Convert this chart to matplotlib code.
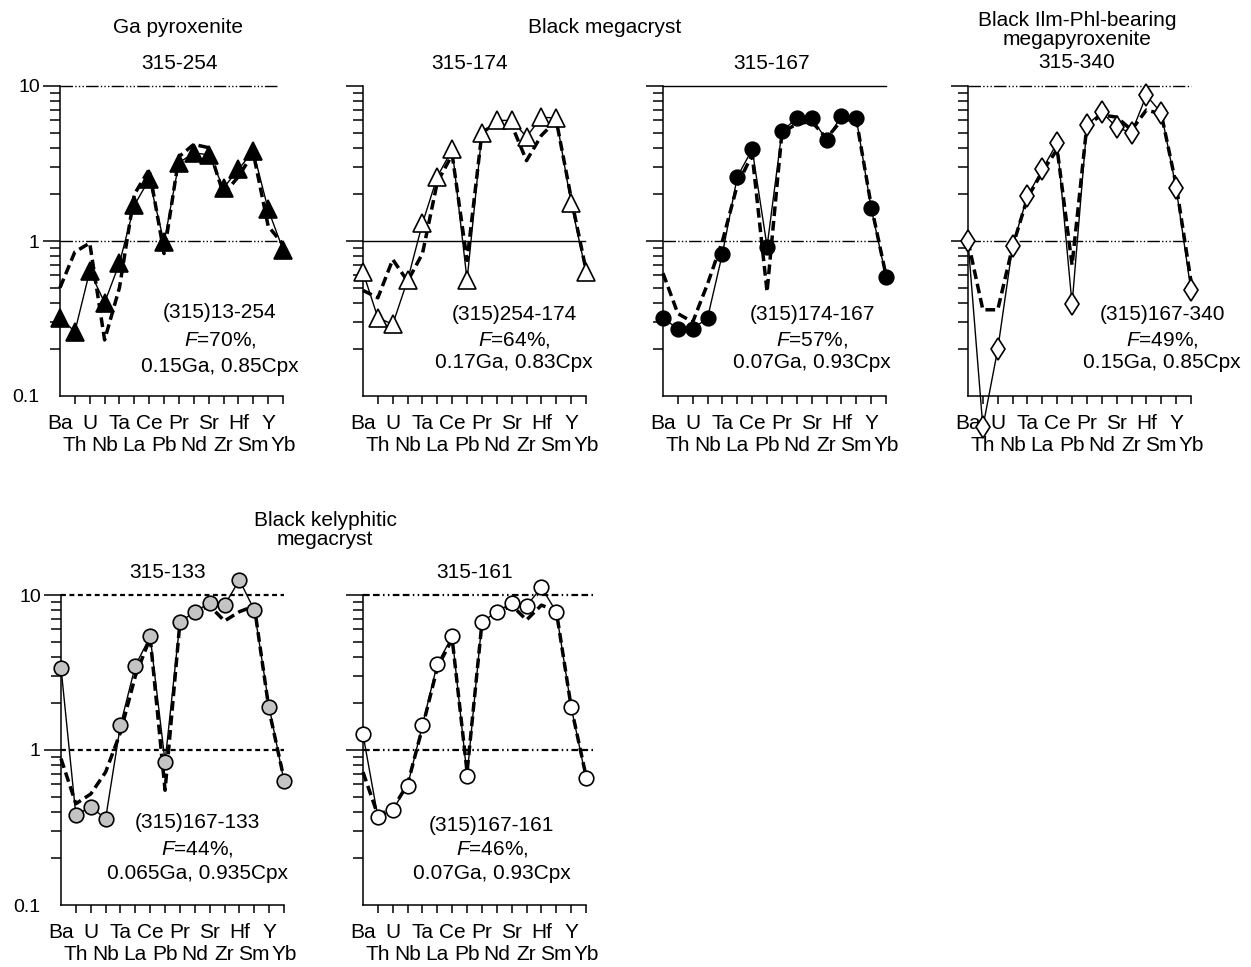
import numpy as np
import matplotlib
matplotlib.use('Agg')
import matplotlib.pyplot as plt

plt.rcParams['font.family'] = ['Liberation Sans', 'DejaVu Sans']
plt.rcParams['mathtext.fontset'] = 'custom'
plt.rcParams['mathtext.rm'] = 'Liberation Sans'
plt.rcParams['mathtext.it'] = 'Liberation Sans:italic'

# 元素 (規格化パターンの順番)
elements = ['Ba', 'Th', 'U', 'Nb', 'Ta', 'La', 'Ce', 'Pb',
            'Pr', 'Nd', 'Sr', 'Zr', 'Hf', 'Sm', 'Y', 'Yb']

# 観測値 (実線+マーカー) とモデル値 (太い破線)
obs_254 = [0.32, 0.26, 0.64, 0.40, 0.72, 1.7, 2.5, 0.98, 3.2, 3.7, 3.6, 2.2, 2.9, 3.8, 1.6, 0.88]
model_254 = [0.50, 0.85, 0.97, 0.23, 0.50, 2.0, 2.9, 0.83, 3.5, 4.2, 4.0, 2.0, 2.6, 3.7, 1.25, 0.95]

obs_174 = [0.63, 0.32, 0.29, 0.56, 1.3, 2.6, 3.9, 0.56, 5.0, 6.0, 6.0, 4.7, 6.3, 6.2, 1.75, 0.63]
model_174 = [0.48, 0.43, 0.76, 0.55, 0.83, 2.4, 3.6, 0.75, 5.0, 5.8, 5.6, 3.3, 4.8, 6.0, 1.9, 0.65]

obs_167 = [0.32, 0.27, 0.27, 0.32, 0.83, 2.6, 3.9, 0.92, 5.1, 6.2, 6.2, 4.5, 6.4, 6.2, 1.63, 0.59]
model_167 = [0.62, 0.34, 0.30, 0.53, 1.0, 2.3, 3.6, 0.47, 5.0, 5.7, 5.9, 4.6, 6.0, 6.1, 1.7, 0.60]

obs_340 = [1.0, 0.063, 0.20, 0.93, 1.95, 2.9, 4.3, 0.39, 5.6, 6.8, 5.4, 5.0, 8.7, 6.7, 2.2, 0.48]
model_340 = [1.0, 0.36, 0.36, 0.92, 1.9, 2.8, 3.9, 0.70, 5.6, 6.5, 6.3, 5.2, 7.0, 6.6, 2.3, 0.55]

obs_133 = [3.4, 0.38, 0.43, 0.36, 1.45, 3.5, 5.4, 0.84, 6.7, 7.8, 8.9, 8.6, 12.5, 8.0, 1.9, 0.63]
model_133 = [0.88, 0.45, 0.52, 0.72, 1.3, 3.0, 5.3, 0.55, 6.7, 7.8, 8.5, 6.8, 7.8, 8.5, 1.8, 0.65]

obs_161 = [1.26, 0.37, 0.41, 0.59, 1.45, 3.6, 5.4, 0.68, 6.7, 7.8, 8.9, 8.5, 11.2, 7.8, 1.9, 0.66]
model_161 = [0.72, 0.38, 0.42, 0.60, 1.4, 3.4, 5.2, 0.72, 6.6, 7.6, 8.6, 6.9, 8.6, 7.9, 1.9, 0.68]

samples = ['315-254', '315-174', '315-167', '315-340', '315-133', '315-161']
models = ['(315)13-254', '(315)254-174', '(315)174-167',
          '(315)167-340', '(315)167-133', '(315)167-161']
melt_F = ['70', '64', '57', '49', '44', '46']
modes = ['0.15Ga, 0.85Cpx', '0.17Ga, 0.83Cpx', '0.07Ga, 0.93Cpx',
         '0.15Ga, 0.85Cpx', '0.065Ga, 0.935Cpx', '0.07Ga, 0.93Cpx']

W, H = 1251, 967
fig = plt.figure(figsize=(W / 100, H / 100), dpi=100)


def fx(x):
    return x / W


def fy(y):
    return 1 - y / H


FS = 15

# 破線パターン
dash_dot3 = (0, (9, 1.6, 1, 1.6, 1, 1.6, 1, 1.6))
dash2_dot2 = (0, (3, 1.5, 3, 1.5, 0.7, 1.5, 0.7, 1.5))

panels = [
    # (left px, top px, obs, model, marker, face, ms, ref lines [(value, style, lw, xend)], text pos)
    (60, 86, obs_254, model_254, '^', 'black', 13,
     [(1, dash_dot3, 1.0, 14.7), (10, dash_dot3, 1.0, 14.7)],
     (0.717, [0.268, 0.181, 0.094])),
    (363, 86, obs_174, model_174, '^', 'white', 13,
     [(1, '-', 1.0, 14.9)],
     (0.677, [0.262, 0.181, 0.107])),
    (663, 86, obs_167, model_167, 'o', 'black', 10.5,
     [(1, dash_dot3, 1.0, 14.6), (10, '-', 1.0, 15.0)],
     (0.668, [0.262, 0.181, 0.107])),
    (968, 86, obs_340, model_340, 'd', 'white', 11.5,
     [(1, dash_dot3, 1.0, 15.0), (10, dash_dot3, 1.0, 15.0)],
     (0.87, [0.262, 0.181, 0.107])),
    (61, 595, obs_133, model_133, 'o', '#c4c4c4', 10.5,
     [(1, (0, (2.2, 1.6)), 1.6, 15.0), (10, (0, (2.2, 1.6)), 1.6, 15.0)],
     (0.61, [0.265, 0.180, 0.103])),
    (363, 595, obs_161, model_161, 'o', 'white', 10.5,
     [(1, dash2_dot2, 1.6, 15.6), (10, dash2_dot2, 1.6, 15.6)],
     (0.578, [0.258, 0.180, 0.103])),
]

x = np.arange(len(elements))
aw, ah = 223, 310

for i, (lx, ty, obs, mod, mk, face, ms, refs, tpos) in enumerate(panels):
    ax = fig.add_axes([fx(lx), fy(ty + ah), aw / W, ah / H])
    ax.set_yscale('log')
    ax.set_xlim(0, 15)
    ax.set_ylim(0.1, 10)
    ax.spines['top'].set_visible(False)
    ax.spines['right'].set_visible(False)
    ax.spines['left'].set_linewidth(1.1)
    ax.spines['bottom'].set_linewidth(1.1)

    for val, ls, lw, xend in refs:
        ax.plot([0, xend], [val, val], color='black', lw=lw, linestyle=ls,
                clip_on=False, zorder=1)

    ax.plot(x, obs, color='black', lw=1.0, clip_on=False, zorder=2)
    ax.plot(x, mod, color='black', lw=2.5, linestyle=(0, (2.8, 1.4)),
            clip_on=False, zorder=3)
    ax.plot(x, obs, linestyle='none', marker=mk, ms=ms, mfc=face,
            mec='black', mew=1.2, clip_on=False, zorder=4)

    # y軸
    ax.set_yticks([0.1, 1, 10])
    if i in (0, 4):
        ax.set_yticklabels(['0.1', '1', '10'])
    else:
        ax.set_yticklabels(['', '', ''])
    ax.tick_params(axis='y', which='major', direction='out', length=12,
                   width=1.1, pad=2.5, labelsize=FS - 1)
    ax.tick_params(axis='y', which='minor', direction='out', length=7,
                   width=1.1)
    ax.yaxis.get_major_ticks()[0].tick1line.set_visible(False)
    ax.yaxis.set_minor_formatter(plt.NullFormatter())

    # x軸 (2段ラベル)
    ax.set_xticks(x[0::2])
    ax.set_xticklabels(elements[0::2])
    ax.set_xticks(x[1::2], minor=True)
    ax.set_xticklabels(elements[1::2], minor=True)
    ax.tick_params(axis='x', which='both', direction='out', length=6,
                   width=1.1, labelsize=FS)
    ax.tick_params(axis='x', which='major', pad=7)
    ax.tick_params(axis='x', which='minor', pad=23)
    ax.xaxis.get_major_ticks()[0].tick1line.set_visible(False)

    tx, tys = tpos
    lines = [models[i], r'$F$=' + melt_F[i] + '%,', modes[i]]
    for ln, tyy in zip(lines, tys):
        ax.text(tx, tyy, ln, transform=ax.transAxes, ha='center',
                va='center', fontsize=FS)

# タイトル類
title_items = [
    ('Ga pyroxenite', 178, 33),
    ('315-254', 180, 69),
    ('Black megacryst', 605, 33),
    ('315-174', 470, 69),
    ('315-167', 772, 69),
    ('Black Ilm-Phl-bearing', 1077, 26),
    ('megapyroxenite', 1077, 45),
    ('315-340', 1077, 68),
    ('Black kelyphitic', 325, 526),
    ('megacryst', 325, 545),
    ('315-133', 168, 578),
    ('315-161', 475, 578),
]
for txt, px, py in title_items:
    fig.text(fx(px), fy(py), txt, ha='center', va='baseline', fontsize=FS)

fig.savefig('out.png', dpi=100)
